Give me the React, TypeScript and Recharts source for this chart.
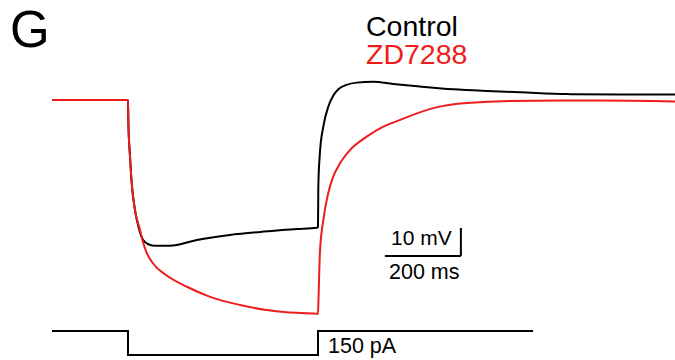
import { LineChart, Line, XAxis, YAxis, ReferenceLine } from "recharts";

// time in ms (0 = step onset), membrane potential in mV
const controlTrace = [
  { t: -200, v: -60 }, { t: 0, v: -60 }, { t: 1, v: -68.2 }, { t: 5.3, v: -80.2 },
  { t: 9.7, v: -89.6 }, { t: 18.4, v: -99.3 }, { t: 28, v: -105.5 }, { t: 40, v: -110 },
  { t: 55, v: -111.6 }, { t: 71, v: -112.1 }, { t: 110, v: -112.1 }, { t: 181, v: -110 },
  { t: 268, v: -108.2 }, { t: 356, v: -107 }, { t: 444, v: -106.1 }, { t: 497, v: -105.6 },
  { t: 500, v: -105.4 }, { t: 500.8, v: -91 }, { t: 505, v: -78.9 }, { t: 514, v: -69.5 },
  { t: 527, v: -62.4 }, { t: 540, v: -58.5 }, { t: 555, v: -56 }, { t: 575, v: -54.6 },
  { t: 602, v: -53.8 }, { t: 645, v: -53.5 }, { t: 698, v: -54.3 }, { t: 768, v: -55.2 },
  { t: 856, v: -56.2 }, { t: 944, v: -56.8 }, { t: 1032, v: -57.25 }, { t: 1154, v: -57.9 },
  { t: 1300, v: -58 }, { t: 1440, v: -58 },
];

const zdTrace = [
  { t: -200, v: -60 }, { t: 0, v: -60 }, { t: 1, v: -68.2 }, { t: 5.3, v: -80.2 },
  { t: 9.7, v: -89.6 }, { t: 18.4, v: -99.3 }, { t: 31.6, v: -106.4 }, { t: 40, v: -111 },
  { t: 49, v: -114.5 }, { t: 66, v: -118.4 }, { t: 100, v: -122.5 }, { t: 155, v: -126.7 },
  { t: 216, v: -130.3 }, { t: 295, v: -133.2 }, { t: 365, v: -135 }, { t: 418, v: -135.8 },
  { t: 497, v: -136.3 }, { t: 500, v: -136.4 }, { t: 501, v: -132.5 }, { t: 505, v: -114.6 },
  { t: 514, v: -102.9 }, { t: 527, v: -93.2 }, { t: 540, v: -87.4 }, { t: 558, v: -82.6 },
  { t: 584, v: -77.9 }, { t: 628, v: -73.1 }, { t: 672, v: -69.5 }, { t: 716, v: -67.1 },
  { t: 803, v: -62.9 }, { t: 892, v: -61.1 }, { t: 1066, v: -60.25 }, { t: 1242, v: -60.2 },
  { t: 1440, v: -60.5 },
];

// injected current, pA
const currentStep = [
  { t: -200, i: 0 }, { t: 0, i: 0 }, { t: 0, i: -150 },
  { t: 500, i: -150 }, { t: 500, i: 0 }, { t: 1066, i: 0 },
];

const scaleTime = [676, 876]; // 200 ms
const scaleVolt = [-115.7, -105.7]; // 10 mV

export default function App() {
  return (
    <div style={{ position: "absolute", left: 0, top: 0, width: 675, height: 360, background: "#fff" }}>
      <LineChart width={675} height={360} margin={{ top: 0, right: 0, bottom: 0, left: 0 }}>
        <XAxis type="number" dataKey="t" domain={[-336.84, 1439.47]} hide allowDataOverflow />
        <YAxis yAxisId="v" type="number" domain={[-152.86, -24.29]} hide allowDataOverflow />
        <YAxis yAxisId="i" type="number" domain={[-181.25, 2068.75]} hide allowDataOverflow />
        <Line yAxisId="i" data={currentStep} dataKey="i" type="linear" stroke="#000" strokeWidth={2} dot={false} activeDot={false} isAnimationActive={false} />
        <Line yAxisId="v" data={controlTrace} dataKey="v" type="monotone" stroke="#000" strokeWidth={2} dot={false} activeDot={false} isAnimationActive={false} />
        <Line yAxisId="v" data={zdTrace} dataKey="v" type="monotone" stroke="#ee1c1c" strokeWidth={2} dot={false} activeDot={false} isAnimationActive={false} />
        <ReferenceLine yAxisId="v" segment={[{ x: scaleTime[0], y: scaleVolt[0] }, { x: scaleTime[1], y: scaleVolt[0] }]} stroke="#000" strokeWidth={2} />
        <ReferenceLine yAxisId="v" segment={[{ x: scaleTime[1], y: scaleVolt[0] }, { x: scaleTime[1], y: scaleVolt[1] }]} stroke="#000" strokeWidth={2} />
      </LineChart>
      <svg width={675} height={360} style={{ position: "absolute", left: 0, top: 0, pointerEvents: "none" }}
        fontFamily="'Liberation Sans', Arial, sans-serif">
        <text x={10} y={47} fontSize={51} fill="#000">G</text>
        <text x={366} y={36} fontSize={28.5} fill="#000">Control</text>
        <text x={366} y={64} fontSize={28.5} fill="#ee1c1c">ZD7288</text>
        <text x={391} y={245} fontSize={21} fill="#000">10 mV</text>
        <text x={389} y={279} fontSize={21.5} fill="#000">200 ms</text>
        <text x={328} y={353} fontSize={21.5} fill="#000">150 pA</text>
      </svg>
    </div>
  );
}
